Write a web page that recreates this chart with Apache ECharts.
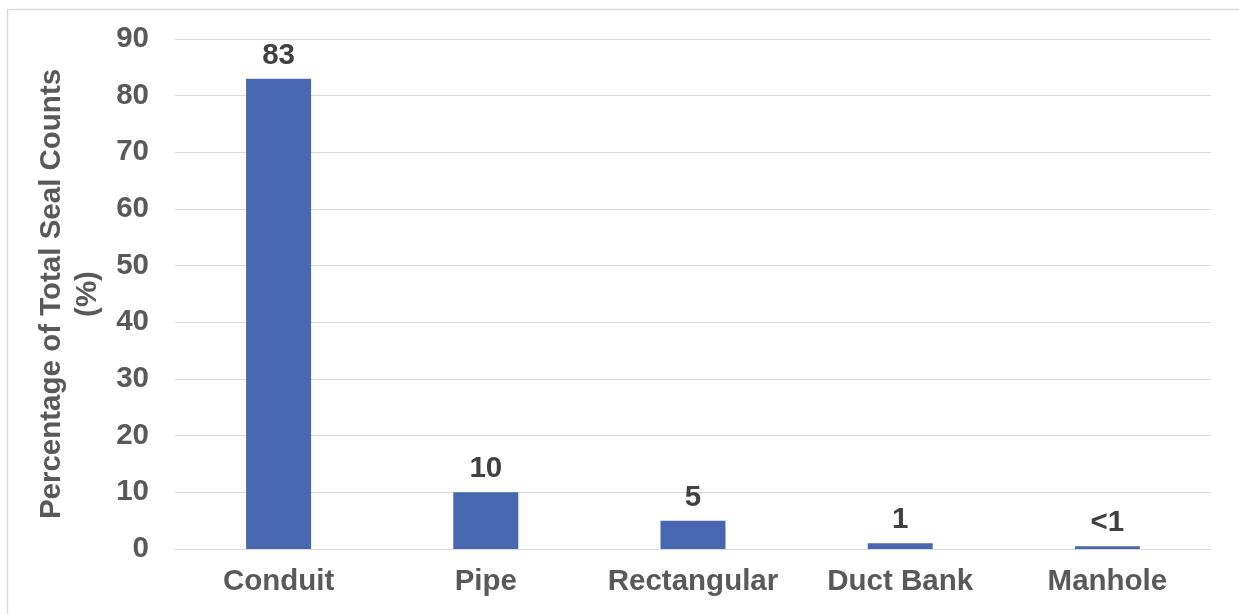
<!DOCTYPE html>
<html>
<head>
<meta charset="utf-8">
<script src="https://cdn.jsdelivr.net/npm/echarts@6/dist/echarts.min.js"></script>
<style>
html,body{margin:0;padding:0;background:#fff;}
#c{width:1239px;height:614px;}
</style>
</head>
<body>
<div id="c"></div>
<script>
const categories = ['Conduit', 'Pipe', 'Rectangular', 'Duct Bank', 'Manhole'];
const values = [83, 10, 5, 1, 0.5];
const valueLabels = ['83', '10', '5', '1', '<1'];
const yTitle = 'Percentage of Total Seal Counts\n(%)';

const FONT = '"Liberation Sans", Arial, sans-serif';
const FS = 29.5;
const chart = echarts.init(document.getElementById('c'), null, {renderer: 'canvas'});
chart.setOption({
  backgroundColor: '#ffffff',
  animation: false,
  grid: {left: 175, right: 28, top: 39, bottom: 65},
  graphic: [
    {type: 'rect', shape: {x: 7.5, y: 9.5, width: 1260, height: 640},
     style: {fill: 'none', stroke: '#d9d9d9', lineWidth: 1.5}, silent: true},
    {type: 'text', x: 70, y: 294, rotation: Math.PI / 2,
     style: {text: yTitle, font: 'bold ' + FS + 'px ' + FONT, fill: '#595959',
       textAlign: 'center', textVerticalAlign: 'middle', lineHeight: 36}}
  ],
  xAxis: {
    type: 'category', data: categories,
    axisLine: {show: true, lineStyle: {color: '#d9d9d9', width: 1}},
    axisTick: {show: false},
    axisLabel: {interval: 0, fontFamily: FONT, fontWeight: 'bold', fontSize: FS, color: '#595959', margin: 18}
  },
  yAxis: {
    type: 'value', min: 0, max: 90, interval: 10,
    axisLine: {show: false}, axisTick: {show: false},
    splitLine: {lineStyle: {color: '#d9d9d9', width: 1}},
    axisLabel: {fontFamily: FONT, fontWeight: 'bold', fontSize: FS, color: '#595959', margin: 26}
  },
  series: [{
    type: 'bar', data: values, barWidth: 65,
    itemStyle: {color: '#4767B0'},
    label: {show: true, position: 'top', distance: 8,
      formatter: p => valueLabels[p.dataIndex],
      fontFamily: FONT, fontWeight: 'bold', fontSize: FS, color: '#404040'}
  }]
});
</script>
</body>
</html>
